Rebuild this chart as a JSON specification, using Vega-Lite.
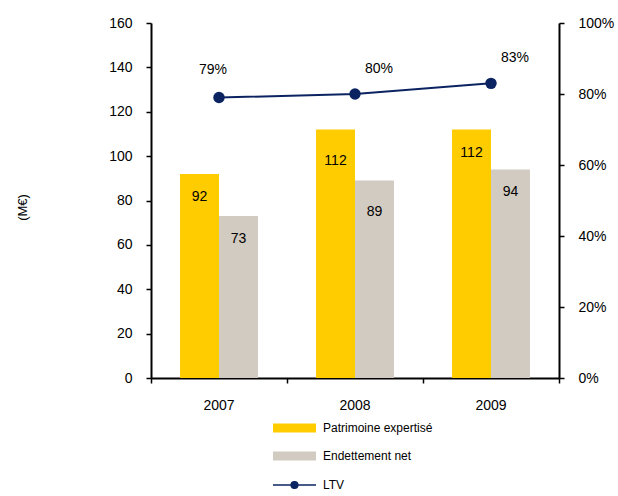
{
  "$schema": "https://vega.github.io/schema/vega-lite/v6.json",
  "width": 408,
  "height": 355,
  "autosize": {"type": "none"},
  "padding": {"left": 151, "top": 23, "right": 59, "bottom": 118},
  "background": "white",
  "config": {
    "view": {"stroke": null},
    "font": "Liberation Sans",
    "axis": {
      "labelFont": "Liberation Sans",
      "labelFontSize": 14,
      "labelColor": "#000",
      "domainColor": "#000",
      "domainWidth": 2,
      "tickColor": "#000",
      "tickWidth": 1.5,
      "tickSize": 5,
      "grid": false,
      "titleFont": "Liberation Sans"
    }
  },
  "data": {
    "values": [
      {"year": "2007", "series": "Patrimoine expertisé", "value": 92},
      {"year": "2007", "series": "Endettement net", "value": 73},
      {"year": "2007", "series": "LTV", "value": 0.79},
      {"year": "2008", "series": "Patrimoine expertisé", "value": 112},
      {"year": "2008", "series": "Endettement net", "value": 89},
      {"year": "2008", "series": "LTV", "value": 0.80},
      {"year": "2009", "series": "Patrimoine expertisé", "value": 112},
      {"year": "2009", "series": "Endettement net", "value": 94},
      {"year": "2009", "series": "LTV", "value": 0.83}
    ]
  },
  "layer": [
    {
      "transform": [{"filter": "datum.series !== 'LTV'"}],
      "layer": [
        {
          "mark": {"type": "bar"},
          "encoding": {
            "x": {
              "field": "year", "type": "nominal",
              "scale": {"paddingInner": 0, "paddingOuter": 0},
              "axis": {"title": null, "labelAngle": 0, "bandPosition": 1, "tickExtra": true, "labelPadding": 15}
            },
            "xOffset": {
              "field": "series", "type": "nominal",
              "sort": ["Patrimoine expertisé", "Endettement net"],
              "scale": {"paddingInner": 0, "paddingOuter": 0.745}
            },
            "y": {
              "field": "value", "type": "quantitative",
              "scale": {"domain": [0, 160]},
              "axis": {
                "title": "(M€)",
                "values": [0, 20, 40, 60, 80, 100, 120, 140, 160],
                "labelPadding": 14,
                "titleX": -129,
                "titleY": 184,
                "titleAngle": -90,
                "titleAlign": "center",
                "titleBaseline": "middle",
                "titleFontSize": 13,
                "titleFontWeight": "normal",
                "titleColor": "#000"
              }
            },
            "color": {
              "field": "series", "type": "nominal",
              "scale": {
                "domain": ["Patrimoine expertisé", "Endettement net", "LTV"],
                "range": ["#FFCC00", "#D2CBC1", "#0B2461"]
              },
              "legend": {
                "title": null,
                "orient": "none",
                "legendX": 122,
                "legendY": 399,
                "direction": "vertical",
                "symbolSize": 1849,
                "labelFont": "Liberation Sans",
                "labelFontSize": 12,
                "labelColor": "#000",
                "labelOffset": 38,
                "rowPadding": 16,
                "padding": 0,
                "encode": {
                  "symbols": {
                    "update": {
                      "x": {"value": 21.5},
                      "shape": {"signal": "datum.value === 'LTV' ? 'M-1,0H1M-0.16,0A0.16,0.16 0 1,0 0.16,0A0.16,0.16 0 1,0 -0.16,0Z' : 'M-1,-0.21H1V0.21H-1Z'"},
                      "fill": {"scale": "color", "field": "value"},
                      "stroke": {"scale": "color", "field": "value"},
                      "strokeWidth": {"signal": "datum.value === 'LTV' ? 1.3 : 0"},
                      "opacity": {"value": 1},
                      "fillOpacity": {"value": 1}
                    }
                  }
                }
              }
            }
          }
        },
        {
          "transform": [{"filter": "datum.year === '2008'"}],
          "mark": {"type": "text", "dy": 31, "baseline": "middle", "align": "center", "fontSize": 14, "font": "Liberation Sans", "color": "#000"},
          "encoding": {
            "x": {"field": "year", "type": "nominal"},
            "xOffset": {"field": "series", "type": "nominal", "sort": ["Patrimoine expertisé", "Endettement net"]},
            "y": {"field": "value", "type": "quantitative"},
            "text": {"field": "value", "type": "quantitative"}
          }
        },
        {
          "transform": [{"filter": "datum.year !== '2008'"}],
          "mark": {"type": "text", "dy": 23, "baseline": "middle", "align": "center", "fontSize": 14, "font": "Liberation Sans", "color": "#000"},
          "encoding": {
            "x": {"field": "year", "type": "nominal"},
            "xOffset": {"field": "series", "type": "nominal", "sort": ["Patrimoine expertisé", "Endettement net"]},
            "y": {"field": "value", "type": "quantitative"},
            "text": {"field": "value", "type": "quantitative"}
          }
        }
      ]
    },
    {
      "transform": [{"filter": "datum.series === 'LTV'"}],
      "layer": [
        {
          "mark": {"type": "line", "strokeWidth": 2, "point": {"filled": true, "size": 130}},
          "encoding": {
            "x": {"field": "year", "type": "nominal"},
            "y": {
              "field": "value", "type": "quantitative",
              "scale": {"domain": [0, 1]},
              "axis": {"orient": "right", "format": ".0%", "values": [0, 0.2, 0.4, 0.6, 0.8, 1], "title": null, "labelPadding": 14}
            },
            "color": {
              "field": "series", "type": "nominal",
              "scale": {
                "domain": ["Patrimoine expertisé", "Endettement net", "LTV"],
                "range": ["#FFCC00", "#D2CBC1", "#0B2461"]
              }
            }
          }
        },
        {
          "transform": [{"filter": "datum.year === '2007'"}],
          "mark": {"type": "text", "dx": -6, "dy": -28, "baseline": "middle", "align": "center", "fontSize": 14, "font": "Liberation Sans", "color": "#000"},
          "encoding": {
            "x": {"field": "year", "type": "nominal"},
            "y": {"field": "value", "type": "quantitative"},
            "text": {"field": "value", "type": "quantitative", "format": ".0%"}
          }
        },
        {
          "transform": [{"filter": "datum.year !== '2007'"}],
          "mark": {"type": "text", "dx": 24, "dy": -25, "baseline": "middle", "align": "center", "fontSize": 14, "font": "Liberation Sans", "color": "#000"},
          "encoding": {
            "x": {"field": "year", "type": "nominal"},
            "y": {"field": "value", "type": "quantitative"},
            "text": {"field": "value", "type": "quantitative", "format": ".0%"}
          }
        }
      ]
    }
  ],
  "resolve": {"scale": {"y": "independent"}}
}
